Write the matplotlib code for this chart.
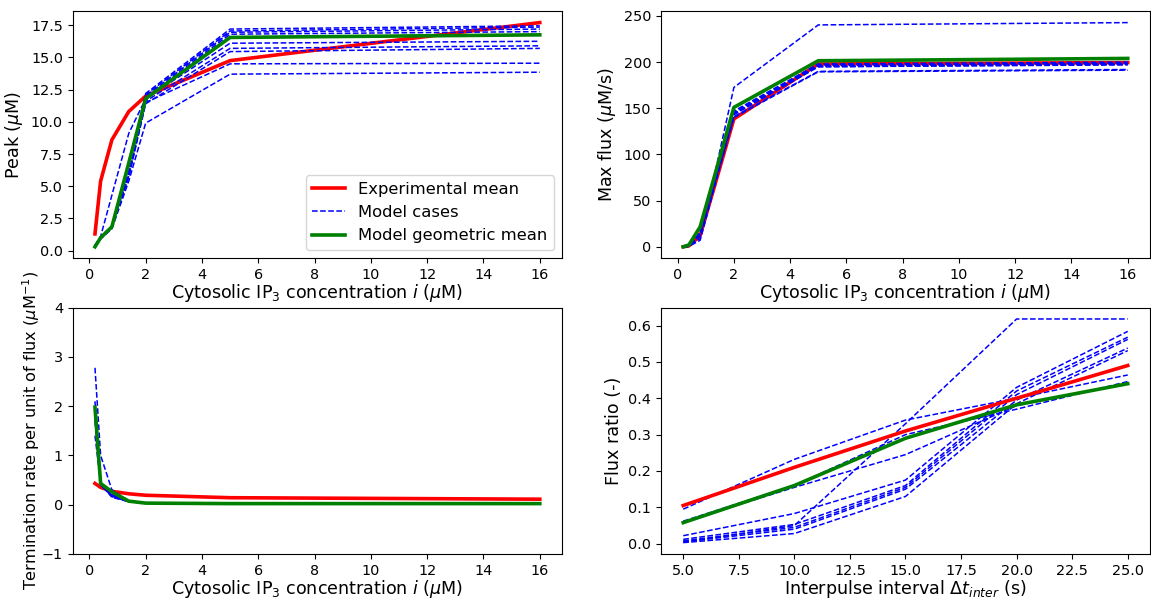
import numpy as np
import matplotlib
matplotlib.use("Agg")
import matplotlib.pyplot as plt

# IP3 concentrations (uM) used for the dose-response panels
ip3 = [0.2, 0.4, 0.8, 1.4, 2.0, 5.0, 16.0]
# interpulse intervals (s) for the paired-pulse panel
dt_inter = [5.0, 10.0, 15.0, 20.0, 25.0]

# peak Ca (uM)
peak_exp = [1.3, 5.4, 8.6, 10.8, 12.0, 14.75, 17.7]
peak_gm = [0.3, 1.0, 1.85, 6.8, 11.8, 16.55, 16.75]
peak_cases = [
    [0.4, 1.0, 1.9, 6.4, 12.2, 17.2, 17.45],
    [0.3, 1.0, 1.8, 6.2, 12.1, 17.05, 17.35],
    [0.4, 1.1, 1.9, 6.3, 12.0, 16.95, 17.2],
    [0.3, 1.0, 1.8, 6.0, 11.9, 16.8, 17.0],
    [0.4, 1.1, 4.3, 9.1, 11.8, 16.1, 16.25],
    [0.3, 1.0, 1.8, 5.9, 11.6, 15.7, 15.9],
    [0.3, 1.0, 1.8, 5.7, 11.4, 15.45, 15.7],
    [0.4, 1.0, 1.9, 5.8, 11.5, 14.5, 14.55],
    [0.3, 0.9, 1.7, 5.4, 9.9, 13.7, 13.85],
]

# maximum flux (uM/s)
flux_exp = [0.0, 1.0, 12.0, 75.0, 138.5, 198.0, 199.5]
flux_gm = [0.0, 2.0, 21.6, 86.0, 151.0, 201.5, 204.0]
flux_cases = [
    [0.0, 0.5, 9.0, 90.0, 172.6, 240.3, 242.8],
    [0.0, 0.5, 7.0, 75.0, 140.0, 189.5, 191.3],
    [0.0, 0.8, 14.0, 80.0, 144.0, 195.0, 197.0],
    [0.0, 0.8, 15.0, 82.0, 146.0, 197.0, 199.0],
    [0.0, 0.9, 16.0, 83.0, 147.0, 198.0, 200.0],
    [0.0, 0.8, 15.0, 81.0, 145.0, 196.0, 198.0],
    [0.0, 0.7, 13.0, 79.0, 143.0, 195.0, 197.5],
    [0.0, 0.6, 12.0, 77.0, 141.0, 190.0, 192.0],
    [0.0, 0.7, 14.0, 80.0, 144.0, 196.0, 198.5],
]

# termination rate per unit of flux (1/uM)
term_exp = [0.43, 0.35, 0.27, 0.22, 0.19, 0.14, 0.11]
term_gm = [1.98, 0.43, 0.26, 0.07, 0.03, 0.02, 0.02]
term_cases = [
    [2.78, 1.0, 0.30, 0.07, 0.03, 0.02, 0.02],
    [1.4, 0.45, 0.20, 0.06, 0.03, 0.02, 0.02],
    [2.0, 0.45, 0.15, 0.06, 0.03, 0.02, 0.02],
    [1.9, 0.42, 0.18, 0.07, 0.03, 0.02, 0.02],
    [1.8, 0.40, 0.16, 0.06, 0.03, 0.02, 0.02],
    [2.1, 0.44, 0.20, 0.07, 0.03, 0.02, 0.02],
    [1.7, 0.40, 0.17, 0.06, 0.03, 0.02, 0.02],
    [1.9, 0.43, 0.19, 0.07, 0.03, 0.02, 0.02],
    [2.0, 0.42, 0.18, 0.06, 0.03, 0.02, 0.02],
]

# paired-pulse flux ratio (-)
ratio_exp = [0.105, 0.21, 0.31, 0.40, 0.49]
ratio_gm = [0.058, 0.16, 0.29, 0.382, 0.44]
ratio_cases = [
    [0.095, 0.232, 0.340, 0.400, 0.464],
    [0.062, 0.160, 0.300, 0.370, 0.446],
    [0.060, 0.155, 0.245, 0.380, 0.440],
    [0.022, 0.083, 0.175, 0.430, 0.584],
    [0.012, 0.053, 0.160, 0.420, 0.568],
    [0.008, 0.045, 0.155, 0.410, 0.562],
    [0.005, 0.040, 0.150, 0.395, 0.538],
    [0.003, 0.028, 0.130, 0.385, 0.531],
    [0.004, 0.050, 0.330, 0.618, 0.618],
]

plt.rcParams["font.size"] = 10.4
plt.rcParams["axes.labelsize"] = 12.6
plt.rcParams["xtick.labelsize"] = 10.4
plt.rcParams["ytick.labelsize"] = 10.4
plt.rcParams["legend.fontsize"] = 11.8

XLAB = r"Cytosolic IP$_3$ concentration $i$ ($\mu$M)"


def panel(ax, x, exp, cases, gm, blue_over_red=True):
    ax.plot(x, exp, color="red", lw=2.6, label="Experimental mean",
            zorder=2 if blue_over_red else 4)
    for k, c in enumerate(cases):
        ax.plot(x, c, color="blue", ls="--", lw=1.1, zorder=3,
                label="Model cases" if k == 0 else None)
    ax.plot(x, gm, color="green", lw=2.6, label="Model geometric mean", zorder=5)


fig = plt.figure(figsize=(11.51, 6.0), dpi=100)
ax1 = fig.add_axes([0.0632, 0.5700, 0.4251, 0.4110])
ax2 = fig.add_axes([0.5743, 0.5700, 0.4248, 0.4110])
ax3 = fig.add_axes([0.0632, 0.0770, 0.4251, 0.4100])
ax4 = fig.add_axes([0.5743, 0.0770, 0.4248, 0.4100])

panel(ax1, ip3, peak_exp, peak_cases, peak_gm)
ax1.set_xlabel(XLAB, labelpad=0)
ax1.set_ylabel(r"Peak ($\mu$M)")
ax1.set_xticks(np.arange(0, 17, 2))
ax1.set_yticks(np.arange(0, 17.6, 2.5))
ax1.legend(loc="lower right")

panel(ax2, ip3, flux_exp, flux_cases, flux_gm)
ax2.set_xlabel(XLAB, labelpad=0)
ax2.set_ylabel(r"Max flux ($\mu$M/s)")
ax2.set_xticks(np.arange(0, 17, 2))

panel(ax3, ip3, term_exp, term_cases, term_gm)
ax3.set_xlabel(XLAB, labelpad=0)
ax3.set_ylabel(r"Termination rate per unit of flux ($\mu$M$^{-1}$)",
               fontsize=11.6, labelpad=0)
ax3.set_xticks(np.arange(0, 17, 2))
ax3.set_ylim(-1, 4)

panel(ax4, dt_inter, ratio_exp, ratio_cases, ratio_gm, blue_over_red=False)
ax4.set_xlabel(r"Interpulse interval $\Delta t_{inter}$ (s)", labelpad=0)
ax4.set_ylabel("Flux ratio (-)")
ax4.set_xticks(np.arange(5, 25.1, 2.5))

fig.savefig("out.png", dpi=100)
